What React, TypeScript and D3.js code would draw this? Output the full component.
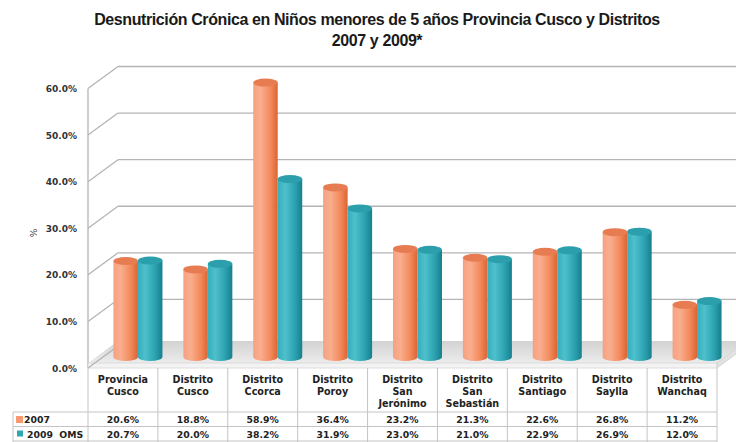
import React from "react";
import * as d3 from "d3";

const titleLines = [
  "Desnutrición Crónica en Niños menores de 5 años Provincia Cusco y Distritos",
  "2007 y 2009*",
];
const categories: string[][] = [
  ["Provincia", "Cusco"],
  ["Distrito", "Cusco"],
  ["Distrito", "Ccorca"],
  ["Distrito", "Poroy"],
  ["Distrito", "San", "Jerónimo"],
  ["Distrito", "San", "Sebastián"],
  ["Distrito", "Santiago"],
  ["Distrito", "Saylla"],
  ["Distrito", "Wanchaq"],
];
const values2007 = [20.6, 18.8, 58.9, 36.4, 23.2, 21.3, 22.6, 26.8, 11.2];
const values2009 = [20.7, 20.0, 38.2, 31.9, 23.0, 21.0, 22.9, 26.9, 12.0];
const seriesNames = ["2007", "2009  OMS"];
const yTicks = [0, 10, 20, 30, 40, 50, 60];
const yAxisTitle = "%";

const W = 736;
const H = 442;
const DX = 30;
const DY = -22;
const FONT = "'DejaVu Sans', Verdana, sans-serif";
const GRID = "#b4b4b4";
const TABLE = "#c4c4c4";
const keyColors = ["#F79A72", "#2EA6B4"];
const topColors = ["#E77C52", "#2C9FAD"];

export default function App() {
  const x = d3
    .scaleBand<number>()
    .domain(categories.map((_, i) => i))
    .range([88, 717]);
  const y = d3.scaleLinear().domain([0, 60]).range([368, 88.5]);
  const series = [values2007, values2009];
  const bw = 24.5;
  const ry = 4;

  const y0 = y(0);
  const floorTop = y0 - 5;
  const xLeft = x.range()[0];
  const xRight = x.range()[1];

  const rowTop = 412;
  const rowH = 14.5;

  return (
    <svg width={W} height={H} style={{ position: "absolute", left: 0, top: 0, background: "#fff" }}>
      <defs>
        <linearGradient id="gOrange" x1="0" x2="1" y1="0" y2="0">
          <stop offset="0%" stopColor="#F6A181" />
          <stop offset="30%" stopColor="#F9AE8E" />
          <stop offset="70%" stopColor="#F38A5C" />
          <stop offset="100%" stopColor="#DC6433" />
        </linearGradient>
        <linearGradient id="gTeal" x1="0" x2="1" y1="0" y2="0">
          <stop offset="0%" stopColor="#35AEBC" />
          <stop offset="30%" stopColor="#4EC0CC" />
          <stop offset="70%" stopColor="#2CA2B1" />
          <stop offset="100%" stopColor="#177F8C" />
        </linearGradient>
        <linearGradient id="gFloor" x1="0" x2="0" y1="0" y2="1">
          <stop offset="0%" stopColor="#d2d2d2" />
          <stop offset="100%" stopColor="#ececec" />
        </linearGradient>
      </defs>

      {/* Title */}
      {titleLines.map((t, i) => (
        <text
          key={i}
          x={377}
          y={25 + i * 21}
          textAnchor="middle"
          fontFamily="'Liberation Sans Narrow', 'Arial Narrow', 'Liberation Sans', Arial, sans-serif"
          fontWeight="bold"
          fontSize={16}
          letterSpacing={-0.4}
          fill="#1a1a1a"
        >
          {t}
        </text>
      ))}

      {/* Gridlines: left wall diagonals + back wall horizontals */}
      {yTicks.map((t) => (
        <g key={t}>
          <line x1={xLeft} y1={y(t)} x2={xLeft + DX} y2={y(t) + DY} stroke={GRID} strokeWidth={1.3} />
          {t > 0 && (
            <line x1={xLeft + DX} y1={y(t) + DY} x2={W} y2={y(t) + DY} stroke={GRID} strokeWidth={1.3} />
          )}
        </g>
      ))}
      <line x1={xLeft} y1={y(60)} x2={xLeft} y2={y0} stroke={GRID} strokeWidth={1.3} />

      {/* Floor slab */}
      <polygon
        points={`${xLeft},${floorTop} ${xRight},${floorTop} ${xRight + DX},${floorTop + DY} ${xLeft + DX},${floorTop + DY}`}
        fill="url(#gFloor)"
      />
      <polygon
        points={`${xLeft},${floorTop} ${xRight},${floorTop} ${xRight},${y0} ${xLeft},${y0}`}
        fill="#f3f3f3"
        stroke="#d6d6d6"
        strokeWidth={0.8}
      />
      <polygon
        points={`${xRight},${floorTop} ${xRight + DX},${floorTop + DY} ${xRight + DX},${y0 + DY} ${xRight},${y0}`}
        fill="#e2e2e2"
        stroke="#cfcfcf"
        strokeWidth={0.8}
      />
      <line x1={xLeft} y1={y0} x2={xLeft + DX} y2={y0 + DY} stroke={GRID} strokeWidth={1.3} />

      {/* Bars (cylinders) */}
      {categories.map((_, i) => {
        const cx = (x(i) as number) + x.bandwidth() / 2 + DX / 2;
        const inner = d3.scaleBand<number>().domain([0, 1]).range([cx - bw, cx + bw]);
        return (
          <g key={i}>
            {series.map((vals, s) => {
              const left = inner(s) as number;
              const w = inner.bandwidth();
              const rx = w / 2;
              const top = y(vals[i]) + DY / 2;
              const bot = y(0) + DY / 2;
              const body = `M${left},${top} L${left},${bot} A${rx},${ry} 0 0 0 ${left + w},${bot} L${left + w},${top} Z`;
              return (
                <g key={s}>
                  <path d={body} fill={s === 0 ? "url(#gOrange)" : "url(#gTeal)"} />
                  <ellipse cx={left + rx} cy={top} rx={rx} ry={ry} fill={topColors[s]} />
                </g>
              );
            })}
          </g>
        );
      })}

      {/* Y axis labels */}
      {yTicks.map((t) => (
        <text
          key={t}
          x={77}
          y={y(t) + 3.5}
          textAnchor="end"
          fontFamily={FONT}
          fontWeight="bold"
          fontSize={9}
          fill="#333"
        >
          {t.toFixed(1)}%
        </text>
      ))}
      <text
        transform={`translate(37,233) rotate(-90)`}
        textAnchor="middle"
        fontFamily={FONT}
        fontSize={9}
        fill="#444"
      >
        {yAxisTitle}
      </text>

      {/* Data table */}
      {categories.map((_, i) => (
        <line key={i} x1={x(i) as number} y1={y0} x2={x(i) as number} y2={H} stroke={TABLE} strokeWidth={1} />
      ))}
      <line x1={xRight} y1={y0} x2={xRight} y2={H} stroke={TABLE} strokeWidth={1} />
      <line x1={13} y1={rowTop} x2={xRight} y2={rowTop} stroke={TABLE} strokeWidth={1} />
      <line x1={13} y1={rowTop + rowH} x2={xRight} y2={rowTop + rowH} stroke={TABLE} strokeWidth={1} />
      <line x1={13} y1={rowTop + 2 * rowH} x2={xRight} y2={rowTop + 2 * rowH} stroke={TABLE} strokeWidth={1} />
      <line x1={13} y1={rowTop} x2={13} y2={H} stroke={TABLE} strokeWidth={1} />

      {categories.map((lines, i) => {
        const cx = (x(i) as number) + x.bandwidth() / 2;
        return (
          <text key={i} textAnchor="middle" fontFamily={FONT} fontWeight="bold" fontSize={9.6} fill="#222">
            {lines.map((l, k) => (
              <tspan key={k} x={cx} y={383 + k * 12}>
                {l}
              </tspan>
            ))}
          </text>
        );
      })}

      {series.map((vals, s) => (
        <g key={s}>
          <rect x={s === 0 ? 16 : 17} y={rowTop + s * rowH + 4} width={s === 0 ? 7 : 6} height={s === 0 ? 7 : 6} fill={keyColors[s]} />
          <text
            x={s === 0 ? 24 : 27}
            y={rowTop + s * rowH + 11}
            fontFamily={FONT}
            fontWeight="bold"
            fontSize={9.3}
            fill="#222"
            style={{ whiteSpace: "pre" }}
          >
            {seriesNames[s]}
          </text>
          {vals.map((v, i) => (
            <text
              key={i}
              x={(x(i) as number) + x.bandwidth() / 2}
              y={rowTop + s * rowH + 11}
              textAnchor="middle"
              fontFamily={FONT}
              fontWeight="bold"
              fontSize={9.3}
              fill="#222"
            >
              {v.toFixed(1)}%
            </text>
          ))}
        </g>
      ))}
    </svg>
  );
}
